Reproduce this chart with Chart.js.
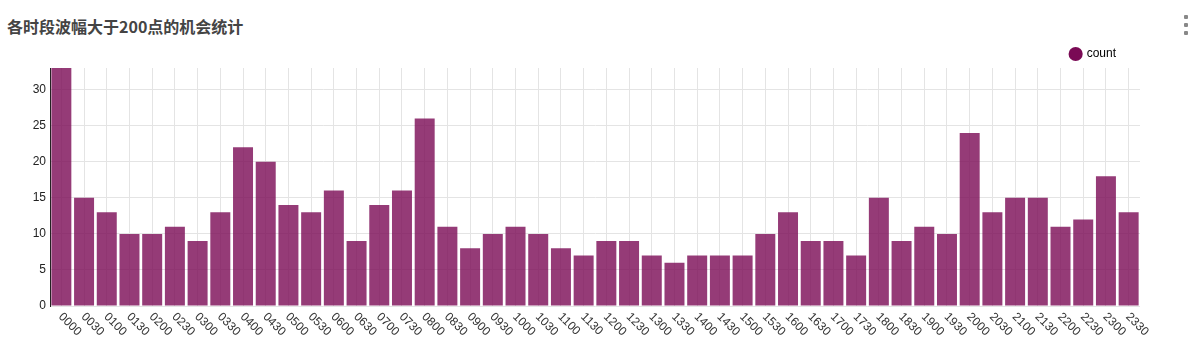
<!DOCTYPE html>
<html>
<head>
<meta charset="utf-8">
<script src="https://cdn.jsdelivr.net/npm/chart.js@4.4.0/dist/chart.umd.min.js"></script>
<style>
  html, body { margin: 0; padding: 0; background: #fff; }
  #wrap { position: relative; width: 1190px; height: 363px; overflow: hidden; }
  #title {
    position: absolute; left: 7px; top: 14px;
    font: bold 16px "Noto Sans CJK SC", "Liberation Sans", sans-serif;
    color: #444;
  }
  #menu { position: absolute; left: 1184px; top: 15px; }
  #menu span { display: block; width: 4px; height: 4px; background: #888; margin-bottom: 4px; border-radius: 1px; }
  #box { position: absolute; left: 0; top: 0; width: 1190px; height: 363px; }
</style>
</head>
<body>
<div id="wrap">
  <div id="title">各时段波幅大于200点的机会统计</div>
  <div id="menu"><span></span><span></span><span></span></div>
  <div id="box"><canvas id="chart"></canvas></div>
</div>
<script>
// time slots (half-hour) and counts
const slots = [
  '0000', '0030', '0100', '0130', '0200', '0230', '0300', '0330',
  '0400', '0430', '0500', '0530', '0600', '0630', '0700', '0730',
  '0800', '0830', '0900', '0930', '1000', '1030', '1100', '1130',
  '1200', '1230', '1300', '1330', '1400', '1430', '1500', '1530',
  '1600', '1630', '1700', '1730', '1800', '1830', '1900', '1930',
  '2000', '2030', '2100', '2130', '2200', '2230', '2300', '2330',
];
const counts = [
  33, 15, 13, 10, 10, 11, 9, 13,
  22, 20, 14, 13, 16, 9, 14, 16,
  26, 11, 8, 10, 11, 10, 8, 7,
  9, 9, 7, 6, 7, 7, 7, 10,
  13, 9, 9, 7, 15, 9, 11, 10,
  24, 13, 15, 15, 11, 12, 18, 13,
];
const yTicks = [0, 5, 10, 15, 20, 25, 30];

const FONT = "'Liberation Sans', Arial, sans-serif";

// x labels go down-right from each tick, which chart.js can't do on its own
const slantLabels = {
  id: 'slantLabels',
  afterDraw(chart) {
    const { ctx, scales: { x } } = chart;
    ctx.save();
    ctx.font = '12px ' + FONT;
    ctx.fillStyle = '#333';
    ctx.textAlign = 'left';
    ctx.textBaseline = 'middle';
    slots.forEach((s, i) => {
      const px = x.getPixelForTick(i);
      ctx.save();
      ctx.translate(px - 1, x.top + 9);
      ctx.rotate(Math.PI / 4);
      ctx.fillText(s, 0, 0);
      ctx.restore();
    });
    ctx.restore();
  },
};

// nudge the legend a bit left of the plot's right edge and a touch lower
const legendShift = {
  id: 'legendShift',
  beforeDraw(chart) {
    const lg = chart.legend;
    if (!lg) return;
    const w = lg.width, h = lg.height;
    lg.right = chart.width - 64;
    lg.left = lg.right - w;
    lg.top = 38;
    lg.bottom = lg.top + h;
  },
};

new Chart(document.getElementById('chart'), {
  type: 'bar',
  data: {
    labels: slots,
    datasets: [{
      label: 'count',
      data: counts,
      backgroundColor: 'rgba(122,10,85,0.8)',
      borderWidth: 0,
      barPercentage: 0.88,
      categoryPercentage: 1,
    }],
  },
  options: {
    responsive: true,
    maintainAspectRatio: false,
    animation: false,
    layout: { padding: { top: 36, right: 50, left: 0, bottom: 0 } },
    plugins: {
      legend: {
        position: 'top',
        align: 'end',
        labels: {
          color: '#333',
          usePointStyle: true,
          pointStyle: 'circle',
          boxWidth: 10,
          boxHeight: 10,
          padding: 10,
          font: { family: FONT, size: 12 },
          generateLabels: () => [{
            text: 'count',
            fillStyle: 'rgb(122,10,85)',
            strokeStyle: 'rgb(122,10,85)',
            lineWidth: 0,
            pointStyle: 'circle',
            datasetIndex: 0,
          }],
        },
      },
      tooltip: { enabled: false },
    },
    scales: {
      x: {
        grid: { offset: false, color: '#e4e4e4', drawTicks: false },
        border: { display: false },
        ticks: { display: false },
        afterFit: (scale) => { scale.height = 57; },
      },
      y: {
        min: 0,
        max: 33,
        grid: {
          color: (c) => (yTicks.includes(c.tick.value) ? '#e4e4e4' : 'rgba(0,0,0,0)'),
          drawTicks: false,
        },
        border: { display: true, color: '#222', width: 1 },
        afterBuildTicks: (scale) => { scale.ticks = yTicks.map((v) => ({ value: v })); },
        ticks: {
          color: '#222',
          padding: 4,
          font: { family: FONT, size: 12 },
        },
        afterFit: (scale) => { scale.width = 50; },
      },
    },
  },
  plugins: [slantLabels, legendShift],
});
</script>
</body>
</html>
